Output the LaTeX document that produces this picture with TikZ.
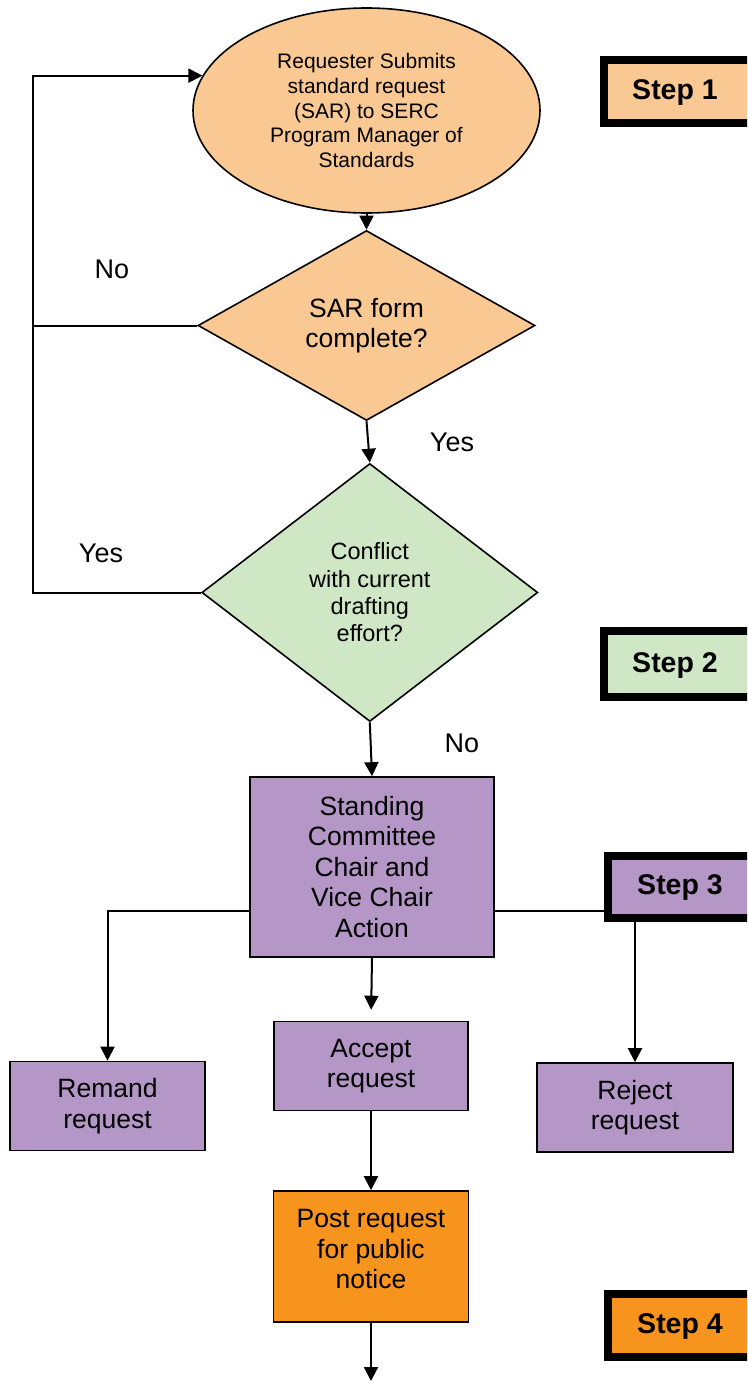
\documentclass[tikz,border=0pt]{standalone}
\usepackage{fontspec}
\setmainfont{Liberation Sans}
\usetikzlibrary{shapes.geometric,arrows.meta}
\definecolor{peach}{HTML}{FAC993}
\definecolor{lgreen}{HTML}{D0E7C5}
\definecolor{lpurple}{HTML}{B497C6}
\definecolor{dorange}{HTML}{F6941E}
\begin{document}
\begin{tikzpicture}[x=1pt,y=-1pt,
 conn/.style={line width=2pt, draw=black},
 arr/.style={conn, -{Triangle[length=14pt,width=14pt]}},
 shp/.style={draw=black, line width=1.6pt, inner sep=0pt, align=center},
 boxn/.style={shp, rectangle},
 big/.style={font=\fontsize{26.5}{30.5}\selectfont},
 stepbox/.style={draw=black, line width=8pt, rectangle, inner sep=0pt, outer sep=0pt, minimum width=170pt, anchor=north west},
 steptxt/.style={font=\fontsize{28.5}{32}\selectfont\bfseries, inner sep=0pt},
 lbl/.style={font=\fontsize{27}{31}\selectfont, inner sep=0pt}]
\clip (0,0) rectangle (747,1381);
\fill[white] (0,0) rectangle (747,1381);

% main shapes
\node[shp, ellipse, fill=peach, minimum width=347pt, minimum height=205pt,
  font=\fontsize{21}{24.6}\selectfont] (ell) at (366.5,110.5)
  {Requester Submits\\standard request\\(SAR) to SERC\\Program Manager of\\Standards};
\node[shp, diamond, fill=peach, minimum width=337pt, minimum height=190pt, big] (d1) at (366.5,325.5)
  {SAR form\\complete?};
\node[shp, diamond, fill=lgreen, minimum width=336pt, minimum height=258pt,
  font=\fontsize{23.5}{27.3}\selectfont] (d2) at (369.8,592.5)
  {Conflict\\with current\\drafting\\effort?};
\node[boxn, fill=lpurple, minimum width=244pt, minimum height=180pt, big] (sc) at (372,867)
  {Standing\\Committee\\Chair and\\Vice Chair\\Action};
\node[boxn, fill=lpurple, minimum width=195pt, minimum height=89pt, big] (rem) at (107.5,1106)
  {Remand\\request};
\node[boxn, fill=lpurple, minimum width=194pt, minimum height=89pt, big] (acc) at (371,1066)
  {Accept\\request};
\node[boxn, fill=lpurple, minimum width=196pt, minimum height=89pt, big] (rej) at (635,1107.5)
  {Reject\\request};
\node[boxn, fill=dorange, minimum width=195pt, minimum height=131pt] (post) at (371,1256.5) {};
\node[big, align=center, inner sep=0pt] (postT) at (371,1249) {Post request\\for public\\notice};

% connectors
\coordinate (lx) at (33,0);
\coordinate (brY) at (0,911);
\coordinate (endpt) at (371,1381);
\draw[arr] (d2.west) -- (lx |- d2.west) -- (lx |- ell.168) -- (ell.168);
\draw[conn] (d1.west) -- (lx |- d1.west);
\draw[arr] (ell.south) -- (d1.north);
\draw[arr] (d1.south) -- (d2.north);
\draw[arr] (d2.south) -- (sc.north);
\draw[arr, shorten >=11pt] (sc.south) -- (acc.north);
\draw[arr] (sc.west |- brY) -| (rem.north);
\draw[arr] (sc.east |- brY) -| (rej.north);
\draw[arr] (acc.south) -- (post.north);
\draw[arr] (post.south) -- (endpt);

% labels
\node[lbl] (no1) at (112,269) {No};
\node[lbl] (yes1) at (452,442) {Yes};
\node[lbl] (yes2) at (101,553) {Yes};
\node[lbl] (no2) at (462,743) {No};

% step boxes
\node[stepbox, fill=peach, minimum height=63pt] (s1) at (604,60) {};
\node[steptxt] (s1T) at (675,93) {Step 1};
\node[stepbox, fill=lgreen, minimum height=66pt] (s2) at (604,631) {};
\node[steptxt] (s2T) at (675,665) {Step 2};
\node[stepbox, fill=lpurple, minimum height=62pt] (s3) at (608,856) {};
\node[steptxt] (s3T) at (680,887) {Step 3};
\node[stepbox, fill=dorange, minimum height=63pt] (s4) at (608,1294) {};
\node[steptxt] (s4T) at (680,1326) {Step 4};
\end{tikzpicture}
\end{document}
